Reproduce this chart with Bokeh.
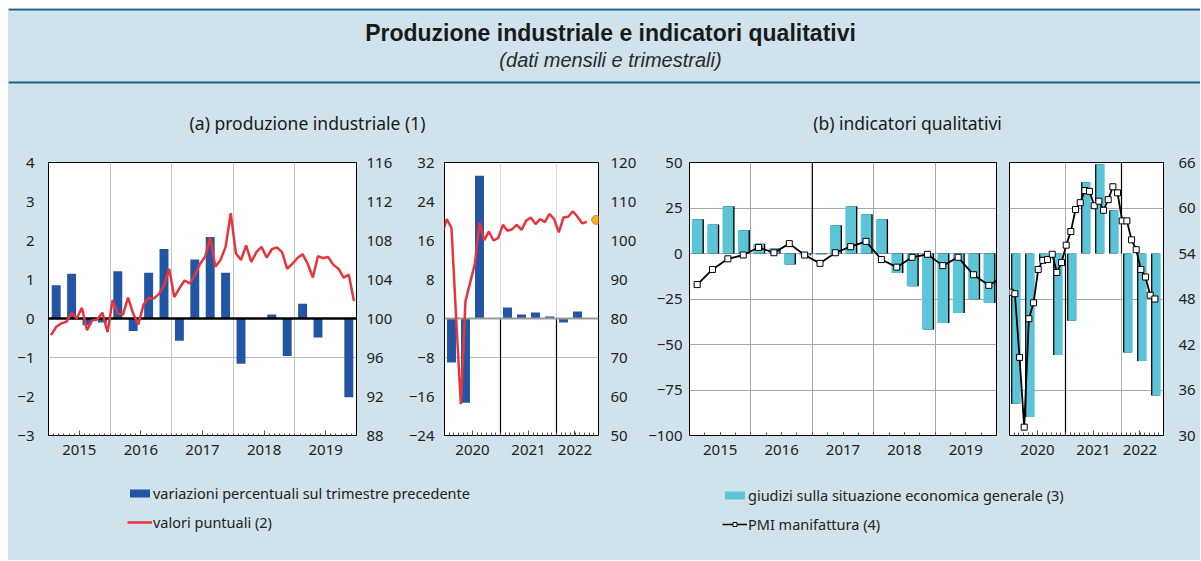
import numpy as np
from bokeh.plotting import figure
from bokeh.models import (Range1d, LinearAxis, FixedTicker, CustomJSTickFormatter, Grid,
                          Label, Legend, LegendItem)
from bokeh.layouts import column, row
from bokeh.embed import file_html
from bokeh.resources import INLINE

BG = "#d0e2ec"
DARK = "#1b6288"
BLUE = "#2355a5"
CYAN = "#5bc5d7"
RED = "#e8353b"
FONT = "Noto Sans"
TXT = "#222222"

# ---------------- data ----------------
# (a) production: quarterly % change (left axis) and monthly index (right axis)
years_a = [2015, 2016, 2017, 2018, 2019]
ip_var_a = [0.85, 1.15, -0.17, -0.10, 1.21, -0.32, 1.17, 1.78, -0.57, 1.51,
            2.09, 1.17, -1.16, 0.0, 0.10, -0.96, 0.38, -0.49, 0.0, -2.02]
ip_lvl_a = [98.3, 99.15, 99.5, 99.66, 100.58, 100.0, 101.1, 98.8, 99.8, 99.9, 100.6, 98.6,
            101.9, 100.5, 100.4, 102.15, 100.5, 99.4, 101.4, 102.1, 102.05, 102.5, 103.4, 105.1,
            102.2, 103.1, 103.9, 103.6, 104.4, 105.6, 106.3, 108.3, 105.3, 106.0, 107.35, 110.8,
            106.7, 106.0, 107.5, 105.8, 106.8, 107.35, 106.25, 107.1, 107.3, 106.8, 105.1, 105.6,
            106.2, 106.6, 105.6, 104.2, 106.4, 106.2, 106.3, 105.5, 105.1, 104.2, 104.5, 101.8]

years_b = [2020, 2021, 2022]
ip_var_b = [-9.0, -17.3, 29.3, 0.0, 2.26, 0.82, 1.23, 0.41, -0.82, 1.44]
# monthly index from Dec 2019 to Jul 2022
ip_lvl_b = [101.8, 105.5, 103.2, 80.0, 58.0, 84.5, 89.2, 94.0, 104.6, 100.1, 102.3, 100.0,
            100.6, 104.0, 102.5, 102.9, 104.0, 102.7, 105.1, 105.9, 104.2, 105.5, 104.7, 106.8,
            105.5, 102.1, 105.9, 106.1, 107.5, 106.1, 104.4, 104.8]
ip_forecast = 105.3  # Sep 2022

# (b) qualitative indicators
giudizi_a = [18.8, 15.9, 26.0, 12.8, 5.4, 2.7, -6.1, -1.0, -0.4, 15.5,
             26.0, 21.5, 18.8, -10.7, -18.0, -41.7, -38.2, -32.7, -25.2, -27.2]
pmi_a = [49.9, 51.9, 53.3, 53.8, 54.8, 54.1, 55.3, 53.8, 52.7, 54.1, 54.9,
         55.6, 53.2, 52.2, 53.5, 53.9, 52.4, 53.5, 51.2, 49.8, 51.0]
giudizi_b = [-82.5, -89.9, -4.0, -55.8, -36.9, 39.1, 49.1, 23.7, -54.4, -59.0, -78.0]
pmi_b = [48.9, 48.7, 40.3, 31.1, 45.4, 47.5, 51.9, 53.1, 53.2, 53.9, 51.5, 52.8,
         55.1, 56.9, 59.8, 60.7, 62.3, 62.2, 60.3, 60.9, 59.7, 61.1, 62.8, 62.0,
         58.3, 58.3, 55.8, 54.5, 51.9, 50.9, 48.5, 48.0]

ticks_a_left = [-3, -2, -1, 0, 1, 2, 3, 4]
ticks_a_right = [88, 92, 96, 100, 104, 108, 112, 116]
ticks_b_left = [-24, -16, -8, 0, 8, 16, 24, 32]
ticks_b_right = [50, 60, 70, 80, 90, 100, 110, 120]
ticks_q = [-100, -75, -50, -25, 0, 25, 50]
ticks_pmi = [30, 36, 42, 48, 54, 60, 66]

# ---------------- helpers ----------------
def qpos(start, n):
    return [start + 0.125 + 0.25 * i for i in range(n)]

def mpos(start, n, offset=0.5):
    return [start + (i + offset) / 12 for i in range(n)]

def make_fig(width, lb, rb, xr, yr):
    p = figure(width=width, height=320, x_range=xr, y_range=yr, output_backend="svg",
               toolbar_location=None, y_axis_location=None,
               min_border_left=lb, min_border_right=rb, min_border_top=12, min_border_bottom=35)
    p.background_fill_color = "white"
    p.border_fill_color = BG
    p.outline_line_color = "black"
    p.outline_line_width = 1
    p.ygrid.visible = False
    return p

def style_x(p, mids, minors, major_in=5, minor_in=2):
    ax = p.xaxis[0]
    ax.ticker = FixedTicker(ticks=mids, minor_ticks=minors)
    ax.formatter = CustomJSTickFormatter(code="return String(Math.floor(tick));")
    ax.major_tick_in = major_in
    ax.major_tick_out = 0
    ax.minor_tick_in = minor_in
    ax.minor_tick_out = 0
    ax.axis_line_color = None
    ax.major_tick_line_color = "#555555"
    ax.minor_tick_line_color = "#555555"
    ax.major_label_text_font = FONT
    ax.major_label_text_font_size = "15px"
    ax.major_label_text_color = TXT
    ax.major_label_standoff = 9

def add_y(p, side, ticks, standoff, range_name="default"):
    ax = LinearAxis(y_range_name=range_name, ticker=FixedTicker(ticks=ticks))
    ax.major_tick_in = 0
    ax.major_tick_out = 0
    ax.minor_tick_in = 0
    ax.minor_tick_out = 0
    ax.axis_line_color = None
    ax.major_label_standoff = standoff
    ax.major_label_text_font = FONT
    ax.major_label_text_font_size = "15px"
    ax.major_label_text_color = TXT
    p.add_layout(ax, side)

def hgrid(p, ticks, color, range_name="default"):
    g = Grid(dimension=1, ticker=FixedTicker(ticks=ticks), grid_line_color=color,
             grid_line_width=1, y_range_name=range_name)
    p.add_layout(g, "center")

# ---------------- (a) left: 2015-2019 ----------------
a1 = make_fig(392, 40, 44, Range1d(years_a[0], years_a[-1] + 1), Range1d(-3, 4))
a1.extra_y_ranges = {"ip": Range1d(88, 116)}
style_x(a1, [y + 0.5 for y in years_a],
        [years_a[0] + k / 12 for k in range(1, 12 * len(years_a))], 5, 2)
a1.xgrid.ticker = FixedTicker(ticks=years_a[1:])
a1.xgrid.grid_line_color = "#c4c4c4"
add_y(a1, "left", ticks_a_left, 14)
add_y(a1, "right", ticks_a_right, 10, "ip")
hgrid(a1, [-1], "#bdbdbd")
a1.vbar(x=qpos(years_a[0], len(ip_var_a)), top=ip_var_a, width=0.145,
        fill_color=BLUE, line_color=None)
a1.hspan(y=[0], line_color="black", line_width=2.5)
a1.line(mpos(years_a[0], len(ip_lvl_a)), ip_lvl_a, y_range_name="ip",
        line_color=RED, line_width=2.5)

# ---------------- (a) right: 2020-2022 ----------------
xr_b_end = years_b[-1] + 0.75
a2 = make_fig(245, 44, 47, Range1d(years_b[0], xr_b_end), Range1d(-24, 32))
a2.extra_y_ranges = {"ip": Range1d(50, 120)}
style_x(a2, [2020.5, 2021.5, 2022.33],
        [years_b[0] + k / 12 for k in range(1, 33)], 5, 3)
a2.xgrid.ticker = FixedTicker(ticks=years_b[1:])
a2.xgrid.grid_line_color = "#dddddd"
add_y(a2, "left", ticks_b_left, 10)
add_y(a2, "right", ticks_b_right, 12, "ip")
hgrid(a2, [-8], "#bdbdbd")
a2.segment(x0=years_b[1:], y0=-24, x1=years_b[1:], y1=0, line_color="black", line_width=1.2)
a2.vbar(x=qpos(years_b[0], len(ip_var_b)), top=ip_var_b, width=0.16,
        fill_color=BLUE, line_color=None)
a2.hspan(y=[0], line_color="#9a9a9a", line_width=2)
a2.line(mpos(years_b[0] - 1 / 12, len(ip_lvl_b)), ip_lvl_b, y_range_name="ip",
        line_color=RED, line_width=2.5)
a2.scatter([years_b[-1] + 8.5 / 12], [ip_forecast], y_range_name="ip", marker="circle",
           size=9, fill_color="#f6b126", line_color="#e07b2a", line_width=1)

# ---------------- (b) left: 2015-2019 ----------------
b1 = make_fig(358, 44, 7, Range1d(years_a[0], years_a[-1] + 1), Range1d(-100, 50))
b1.extra_y_ranges = {"pmi": Range1d(30, 66)}
style_x(b1, [y + 0.5 for y in years_a],
        [years_a[0] + k / 4 for k in range(1, 4 * len(years_a))], 3, 3)
b1.xgrid.ticker = FixedTicker(ticks=years_a[1:])
b1.xgrid.grid_line_color = "#a8a8a8"
add_y(b1, "left", ticks_q, 7)
hgrid(b1, ticks_q[1:-1], "#a8a8a8")
b1.segment(x0=[2017], y0=0, x1=[2017], y1=50, line_color="black", line_width=1.2)
xq_a = qpos(years_a[0], len(giudizi_a))
b1.vbar(x=[x + 0.022 for x in xq_a], top=giudizi_a, width=0.174, fill_color="black", line_color=None)
b1.vbar(x=xq_a, top=giudizi_a, width=0.174, fill_color=CYAN, line_color=None)
xp_a = qpos(years_a[0], len(pmi_a))
b1.line(xp_a, pmi_a, y_range_name="pmi", line_color="black", line_width=1.8)
b1.scatter(xp_a, pmi_a, y_range_name="pmi", marker="square", size=6,
           fill_color="white", line_color="black", line_width=1)

# ---------------- (b) right: 2020-2022 ----------------
b2 = make_fig(197, 6, 37, Range1d(years_b[0], xr_b_end), Range1d(-100, 50))
b2.extra_y_ranges = {"pmi": Range1d(30, 66)}
style_x(b2, [2020.5, 2021.5, 2022.33],
        [years_b[0] + k / 12 for k in range(1, 33)], 5, 3)
b2.xgrid.ticker = FixedTicker(ticks=years_b[1:])
b2.xgrid.grid_line_color = "#b0b0b0"
add_y(b2, "right", ticks_pmi, 15, "pmi")
hgrid(b2, [36, 48, 60], "#a8a8a8", "pmi")
b2.segment(x0=[2021], y0=-100, x1=[2021], y1=0, line_color="black", line_width=1.2)
b2.segment(x0=[2022], y0=0, x1=[2022], y1=50, line_color="black", line_width=1.2)
xq_b = qpos(years_b[0], len(giudizi_b))
b2.vbar(x=[x - 0.022 for x in xq_b], top=giudizi_b, width=0.149, fill_color="black", line_color=None)
b2.vbar(x=xq_b, top=giudizi_b, width=0.149, fill_color=CYAN, line_color=None)
xp_b = mpos(years_b[0], len(pmi_b), 0.15)
b2.line(xp_b, pmi_b, y_range_name="pmi", line_color="black", line_width=1.8)
b2.scatter(xp_b, pmi_b, y_range_name="pmi", marker="square", size=6,
           fill_color="white", line_color="black", line_width=1)

# ---------------- header ----------------
hdr = figure(width=1192, height=142, x_range=Range1d(0, 1192), y_range=Range1d(142, 0),
             output_backend="svg", toolbar_location=None, min_border=0,
             x_axis_location=None, y_axis_location=None)
hdr.background_fill_color = BG
hdr.border_fill_color = BG
hdr.outline_line_color = None
hdr.grid.visible = False
hdr.hspan(y=[0.5, 74], line_color=DARK, line_width=2)
hdr.add_layout(Label(x=602, y=24, text="Produzione industriale e indicatori qualitativi",
                     text_font="Liberation Sans", text_font_style="bold", text_font_size="23px",
                     text_align="center", text_baseline="middle", text_color="#1a1a1a"))
hdr.add_layout(Label(x=602, y=51, text="(dati mensili e trimestrali)",
                     text_font="Liberation Sans", text_font_style="italic", text_font_size="20px",
                     text_align="center", text_baseline="middle", text_color="#2a2a2a"))
hdr.add_layout(Label(x=299, y=114, text="(a) produzione industriale (1)",
                     text_font=FONT, text_font_size="17.5px",
                     text_align="center", text_baseline="middle", text_color="#1a1a1a"))
hdr.add_layout(Label(x=899, y=114, text="(b) indicatori qualitativi",
                     text_font=FONT, text_font_size="17.5px",
                     text_align="center", text_baseline="middle", text_color="#1a1a1a"))

# ---------------- legend strip ----------------
leg = figure(width=1192, height=90, x_range=Range1d(0, 1192), y_range=Range1d(90, 0),
             output_backend="svg", toolbar_location=None, min_border=0,
             x_axis_location=None, y_axis_location=None)
leg.background_fill_color = BG
leg.border_fill_color = BG
leg.outline_line_color = None
leg.grid.visible = False
# invisible proxy renderers (one datum each) used only for the legend swatches
r1 = leg.vbar(x=[years_a[0]], top=[ip_var_a[0]], width=1, fill_color=BLUE, line_color=None, visible=False)
r2 = leg.line(x=[years_a[0]], y=[ip_lvl_a[0]], line_color=RED, line_width=2.5, visible=False)
r3 = leg.vbar(x=[years_a[0]], top=[giudizi_a[0]], width=1, fill_color=CYAN, line_color=None, visible=False)
r4 = leg.line(x=[years_a[0]], y=[pmi_a[0]], line_color="black", line_width=1.5, visible=False)
r5 = leg.scatter(x=[years_a[0]], y=[pmi_a[0]], marker="square", size=6, fill_color="white",
                 line_color="black", visible=False)

def mk_legend(items, loc):
    L = Legend(items=items, location=loc, orientation="vertical", spacing=9, padding=0,
               margin=0, glyph_width=25, glyph_height=10, label_standoff=1,
               label_text_font=FONT, label_text_font_size="14.5px", label_text_color=TXT,
               background_fill_alpha=0, border_line_color=None)
    leg.add_layout(L)

mk_legend([LegendItem(label="variazioni percentuali sul trimestre precedente", renderers=[r1]),
           LegendItem(label="valori puntuali (2)", renderers=[r2])], (119, 28))
mk_legend([LegendItem(label="giudizi sulla situazione economica generale (3)", renderers=[r3]),
           LegendItem(label="PMI manifattura (4)", renderers=[r4, r5])], (714, 26))

body = row(a1, a2, b1, b2, styles={"background-color": BG})
layout = column(hdr, body, leg, margin=(8, 0, 0, 8), styles={"background-color": BG})
open("out.html", "w").write(file_html(layout, INLINE))
